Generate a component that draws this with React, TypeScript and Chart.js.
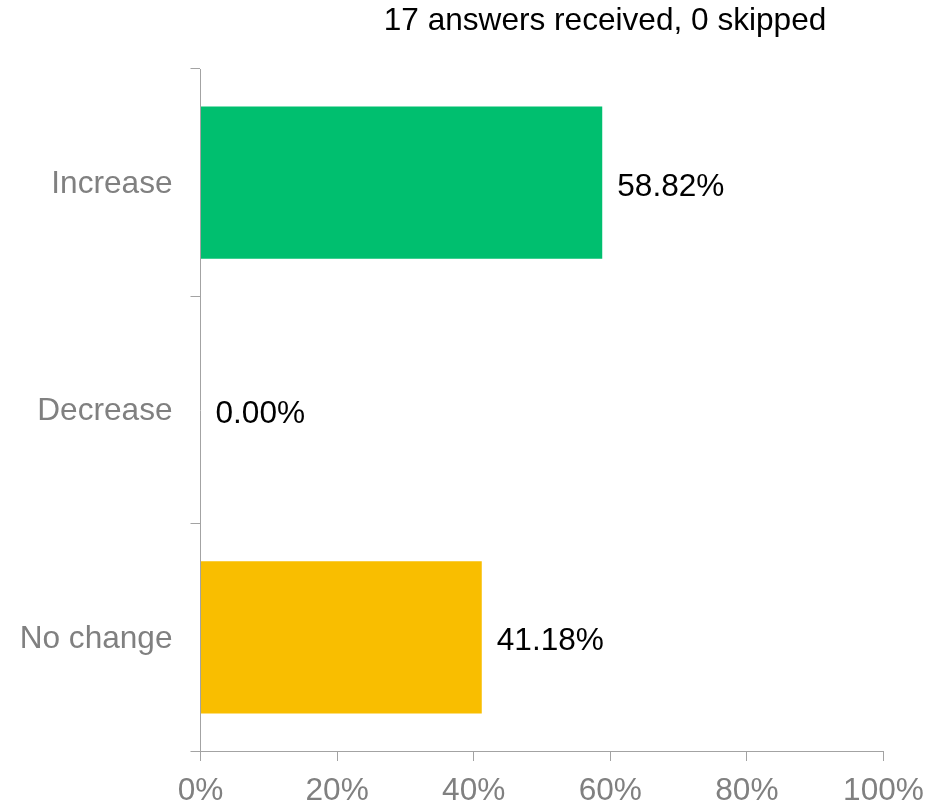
import React, { useEffect, useRef } from "react";
import { Chart, registerables } from "chart.js";

Chart.register(...registerables);

const titleText = "17 answers received, 0 skipped";
const categories = ["Increase", "Decrease", "No change"];
const percentages = [58.82, 0.0, 41.18];
const barColors = ["#00BF6F", "#00BF6F", "#F9BE00"];
const xTickValues = [0, 20, 40, 60, 80, 100];

const FONT = '"Liberation Sans", Arial, Helvetica, sans-serif';
const FONT_SIZE = 31.6;
const AXIS_COLOR = "#a3a3a3";
const LABEL_COLOR = "#808080";

const titlePlugin = {
  id: "topTitle",
  afterDraw(chart: any) {
    const ctx = chart.ctx;
    ctx.save();
    ctx.font = `${FONT_SIZE}px ${FONT}`;
    ctx.fillStyle = "#000000";
    ctx.textAlign = "center";
    ctx.textBaseline = "alphabetic";
    ctx.fillText(titleText, 605, 30);
    ctx.restore();
  },
};

const valueLabelPlugin = {
  id: "valueLabels",
  afterDatasetsDraw(chart: any) {
    const ctx = chart.ctx;
    const meta = chart.getDatasetMeta(0);
    ctx.save();
    ctx.font = `${FONT_SIZE}px ${FONT}`;
    ctx.fillStyle = "#000000";
    ctx.textAlign = "left";
    ctx.textBaseline = "alphabetic";
    meta.data.forEach((el: any, i: number) => {
      const v = percentages[i];
      ctx.fillText(v.toFixed(2) + "%", el.x + 15, el.y + 13);
    });
    ctx.restore();
  },
};

export default function App() {
  const canvasRef = useRef<HTMLCanvasElement | null>(null);

  useEffect(() => {
    if (!canvasRef.current) return;
    const chart = new Chart(canvasRef.current, {
      type: "bar",
      data: {
        labels: categories,
        datasets: [
          {
            data: percentages,
            backgroundColor: barColors,
            borderWidth: 0,
            categoryPercentage: 1,
            barPercentage: 0.67,
          },
        ],
      },
      options: {
        indexAxis: "y",
        responsive: false,
        animation: false,
        devicePixelRatio: 1,
        layout: { padding: { top: 69, right: 52.5, left: 0, bottom: 0 } },
        plugins: {
          legend: { display: false },
          tooltip: { enabled: false },
          title: { display: false },
        },
        scales: {
          x: {
            type: "linear",
            min: 0,
            max: 100,
            afterBuildTicks: (scale: any) => {
              scale.ticks = xTickValues.map((v) => ({ value: v }));
            },
            afterFit: (scale: any) => {
              scale.height = 53;
            },
            ticks: {
              font: { size: FONT_SIZE, family: FONT },
              color: LABEL_COLOR,
              padding: 11,
              callback: (v: any) => v + "%",
              maxRotation: 0,
              autoSkip: false,
            },
            grid: {
              drawOnChartArea: false,
              drawTicks: true,
              tickLength: 10,
              color: AXIS_COLOR,
              lineWidth: 1,
            },
            border: { display: true, color: AXIS_COLOR, width: 1 },
          },
          y: {
            type: "category",
            afterFit: (scale: any) => {
              scale.width = 200.5;
            },
            ticks: {
              font: { size: FONT_SIZE, family: FONT },
              color: LABEL_COLOR,
              padding: 18,
              labelOffset: 1.5,
            },
            grid: {
              offset: true,
              drawOnChartArea: false,
              drawTicks: true,
              tickLength: 10,
              color: AXIS_COLOR,
              lineWidth: 1,
            },
            border: { display: true, color: AXIS_COLOR, width: 1 },
          },
        },
      },
      plugins: [titlePlugin, valueLabelPlugin],
    });
    return () => chart.destroy();
  }, []);

  return (
    <div style={{ position: "fixed", left: 0, top: 0, width: 936, height: 804, background: "#ffffff" }}>
      <canvas ref={canvasRef} width={936} height={804} style={{ display: "block" }} />
    </div>
  );
}
